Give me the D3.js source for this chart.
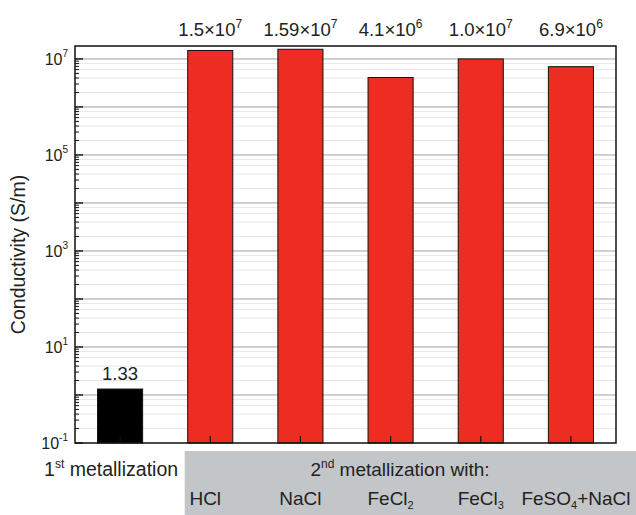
<!DOCTYPE html>
<html>
<head>
<meta charset="utf-8">
<script src="https://cdn.jsdelivr.net/npm/d3@7"></script>
<style>
  body { margin: 0; background: #fff; }
  text { font-family: "Liberation Sans", Arial, sans-serif; fill: #222; }
</style>
</head>
<body>
<svg id="chart" width="636" height="515"></svg>
<script>
// data
const categories = ["1st metallization", "HCl", "NaCl", "FeCl2", "FeCl3", "FeSO4+NaCl"];
const values = [1.33, 1.5e7, 1.59e7, 4.1e6, 1.0e7, 6.9e6];
const valueMantissa = ["1.33", "1.5", "1.59", "4.1", "1.0", "6.9"];
const valueExponent = [null, "7", "7", "6", "7", "6"];
const barColors = ["#000000", "#ee2d22", "#ee2d22", "#ee2d22", "#ee2d22", "#ee2d22"];
const yTickValues = [1e-1, 1e1, 1e3, 1e5, 1e7];
const yTickExponents = ["-1", "1", "3", "5", "7"];
// label parts: [base, subscript, rest]
const catLabelParts = [null, ["HCl", ""], ["NaCl", ""], ["FeCl", "2"], ["FeCl", "3"], ["FeSO", "4", "+NaCl"]];

const margin = {top: 46, right: 20, bottom: 72, left: 75};
const W = 636, H = 515;
const svg = d3.select("#chart");

const x = d3.scaleBand()
    .domain(categories)
    .range([margin.left, W - margin.right])
    .paddingInner(0.5)
    .paddingOuter(0.25);

const y = d3.scaleLog()
    .domain([0.1, 1.86e7])
    .range([H - margin.bottom, margin.top]);

// minor grid lines (faint)
const minorVals = [];
for (let e = -1; e < 8; e++) {
    [2, 4, 6, 8].forEach(m => {
        const v = m * Math.pow(10, e);
        if (v < y.domain()[1]) minorVals.push(v);
    });
}
svg.append("g").selectAll("line")
    .data(minorVals)
    .enter().append("line")
    .attr("x1", margin.left).attr("x2", W - margin.right)
    .attr("y1", d => y(d)).attr("y2", d => y(d))
    .style("stroke", "#e6e6e6").style("stroke-width", 1);

// major grid lines
const majorVals = d3.range(0, 8).map(e => Math.pow(10, e));
svg.append("g").selectAll("line")
    .data(majorVals)
    .enter().append("line")
    .attr("x1", margin.left).attr("x2", W - margin.right)
    .attr("y1", d => y(d)).attr("y2", d => y(d))
    .style("stroke", "#a0a0a0").style("stroke-width", 1);

// bars
svg.append("g").selectAll("rect")
    .data(values)
    .enter().append("rect")
    .attr("x", (d, i) => x(categories[i]))
    .attr("width", x.bandwidth())
    .attr("y", d => y(d))
    .attr("height", d => y(0.1) - y(d))
    .style("fill", (d, i) => barColors[i])
    .style("stroke", "#111")
    .style("stroke-width", 1);

// x ticks (inside, pointing up)
svg.append("g").selectAll("line")
    .data(categories)
    .enter().append("line")
    .attr("x1", d => x(d) + x.bandwidth() / 2)
    .attr("x2", d => x(d) + x.bandwidth() / 2)
    .attr("y1", H - margin.bottom)
    .attr("y2", H - margin.bottom - 7)
    .style("stroke", "#111").style("stroke-width", 1.2);

// y axis minor ticks
const minorTicks = [];
for (let e = -1; e < 8; e++) {
    for (let m = 2; m <= 9; m++) {
        const v = m * Math.pow(10, e);
        if (v < y.domain()[1]) minorTicks.push(v);
    }
}
svg.append("g").selectAll("line")
    .data(minorTicks)
    .enter().append("line")
    .attr("x1", margin.left).attr("x2", margin.left + 4)
    .attr("y1", d => y(d)).attr("y2", d => y(d))
    .style("stroke", "#111").style("stroke-width", 1);

// y axis major ticks
svg.append("g").selectAll("line")
    .data(d3.range(-1, 8).map(e => Math.pow(10, e)))
    .enter().append("line")
    .attr("x1", margin.left).attr("x2", margin.left + 8)
    .attr("y1", d => y(d)).attr("y2", d => y(d))
    .style("stroke", "#111").style("stroke-width", 1.4);

// frame
svg.append("rect")
    .attr("x", margin.left).attr("y", margin.top)
    .attr("width", W - margin.left - margin.right)
    .attr("height", H - margin.top - margin.bottom)
    .style("fill", "none").style("stroke", "#111").style("stroke-width", 1.5);

// y tick labels
const yl = svg.append("g").selectAll("text")
    .data(yTickValues)
    .enter().append("text")
    .attr("x", margin.left - 7)
    .attr("y", d => y(d) + 6)
    .attr("text-anchor", "end")
    .style("font-size", "16px");
yl.append("tspan").text("10");
yl.append("tspan").attr("dy", -8).style("font-size", "10px").text((d, i) => yTickExponents[i]);

// y axis title
svg.append("text")
    .attr("transform", "translate(25," + ((margin.top + H - margin.bottom) / 2 + 10) + ") rotate(-90)")
    .attr("text-anchor", "middle")
    .style("font-size", "19.5px")
    .text("Conductivity (S/m)");

// value labels
values.forEach((v, i) => {
    const cx = x(categories[i]) + x.bandwidth() / 2;
    const t = svg.append("text")
        .attr("text-anchor", "middle")
        .style("font-size", "18.5px");
    if (valueExponent[i] === null) {
        t.attr("x", cx).attr("y", y(v) - 9).text(valueMantissa[i]);
    } else {
        t.attr("x", cx).attr("y", 36);
        t.append("tspan").text(valueMantissa[i] + "\u00d710");
        t.append("tspan").attr("dy", -8).style("font-size", "12px").text(valueExponent[i]);
    }
});

// bottom gray panel
svg.append("rect")
    .attr("x", x(categories[1]) - 3)
    .attr("y", 451)
    .attr("width", W - (x(categories[1]) - 3))
    .attr("height", H - 451)
    .style("fill", "#c3c6c9");

// 1st metallization
const first = svg.append("text")
    .attr("x", x(categories[0]) + x.bandwidth() / 2 - 9)
    .attr("y", 476)
    .attr("text-anchor", "middle")
    .style("font-size", "19.5px");
first.append("tspan").text("1");
first.append("tspan").attr("dy", -8).style("font-size", "12px").text("st");
first.append("tspan").attr("dy", 8).text(" metallization");

// 2nd metallization with:
const second = svg.append("text")
    .attr("x", 400)
    .attr("y", 476)
    .attr("text-anchor", "middle")
    .style("font-size", "19px");
second.append("tspan").text("2");
second.append("tspan").attr("dy", -8).style("font-size", "12px").text("nd");
second.append("tspan").attr("dy", 8).text(" metallization with:");

// category labels in panel
catLabelParts.forEach((p, i) => {
    if (!p) return;
    const cx = x(categories[i]) + x.bandwidth() / 2;
    const t = svg.append("text")
        .attr("x", cx - (i === 1 ? 5 : 0) + (i === 5 ? 5 : 0))
        .attr("y", 505)
        .attr("text-anchor", "middle")
        .style("font-size", "19px");
    t.append("tspan").text(p[0]);
    if (p[1]) {
        t.append("tspan").attr("dy", 4).style("font-size", "11px").text(p[1]);
        if (p[2]) t.append("tspan").attr("dy", -4).text(p[2]);
    }
});
</script>
</body>
</html>
